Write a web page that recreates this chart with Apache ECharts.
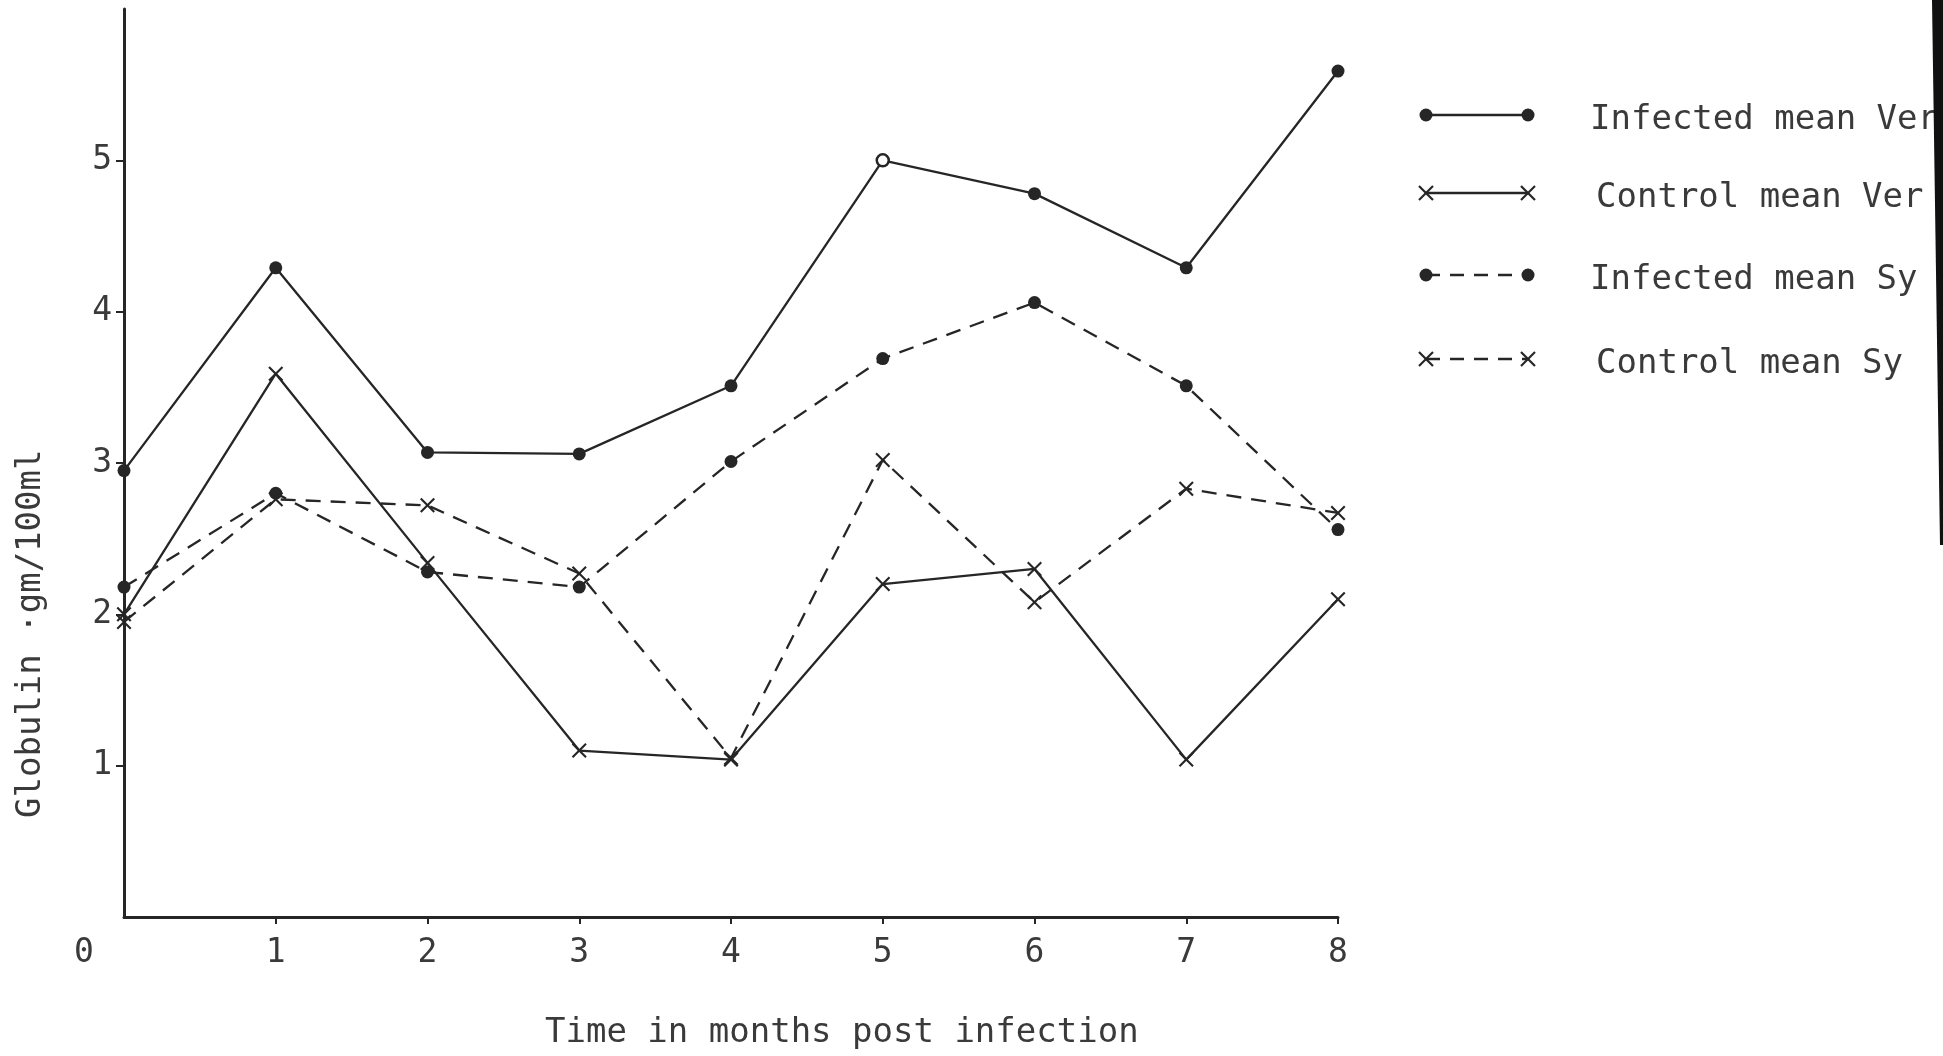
<!DOCTYPE html>
<html>
<head>
<meta charset="utf-8">
<script src="https://cdn.jsdelivr.net/npm/echarts@6/dist/echarts.min.js"></script>
<style>
html,body{margin:0;padding:0;background:#fff;}
#chart{width:1943px;height:1056px;}
</style>
</head>
<body>
<div id="chart"></div>
<script>
// ---- data ----
const months = [0, 1, 2, 3, 4, 5, 6, 7, 8];
const infectedVer = [2.95, 4.29, 3.07, 3.06, 3.51, 5.00, 4.78, 4.29, 5.59];
const controlVer  = [2.00, 3.59, 2.34, 1.10, 1.04, 2.20, 2.30, 1.04, 2.10];
const infectedSy  = [2.18, 2.80, 2.28, 2.18, 3.01, 3.69, 4.06, 3.51, 2.56];
const controlSy   = [1.95, 2.76, 2.72, 2.27, 1.05, 3.02, 2.08, 2.83, 2.67];
const seriesNames = ['Infected mean Ver', 'Control mean Ver', 'Infected mean Sy', 'Control mean Sy'];
const openPointIndex = 5; // hollow dot on Infected mean Ver
const xTicks = [0, 1, 2, 3, 4, 5, 6, 7, 8];
const yTicks = [1, 2, 3, 4, 5];
const xTitle = 'Time in months post infection';
const yTitle = 'Globulin ·gm/100ml';

// ---- style ----
const INK = '#262626';
const TXT = '#3a3a3a';
const FONT = '"DejaVu Sans Mono", monospace';
const CROSS = 'path://M1,0 L5,4 L9,0 L10,1 L6,5 L10,9 L9,10 L5,6 L1,10 L0,9 L4,5 L0,1 Z';
const DASH = [15, 10];

function pts(arr) { return months.map((m, i) => [m, arr[i]]); }

const chart = echarts.init(document.getElementById('chart'), null, {renderer: 'canvas'});

const infVerData = pts(infectedVer).map((p, i) => i === openPointIndex
  ? {value: p, symbol: 'circle', symbolSize: 12, itemStyle: {color: '#fff', borderColor: INK, borderWidth: 2.5}}
  : p);

function lineSeries(name, data, dashed, sym) {
  return {
    name: name, type: 'line', data: data,
    symbol: sym === 'dot' ? 'circle' : CROSS,
    symbolSize: sym === 'dot' ? 13 : 15,
    showAllSymbol: true,
    animation: false,
    lineStyle: {color: INK, width: 2.3, type: dashed ? DASH : 'solid'},
    itemStyle: {color: INK, borderWidth: 0}
  };
}

// legend drawn as graphics
const legY = [115, 193, 275, 359];
const legX1 = 1426, legX2 = 1528;
const legendGraphics = [];
const legSpec = [
  {dashed: false, sym: 'dot'}, {dashed: false, sym: 'x'},
  {dashed: true, sym: 'dot'}, {dashed: true, sym: 'x'}
];
legSpec.forEach((s, i) => {
  const y = legY[i];
  legendGraphics.push({
    type: 'line', shape: {x1: legX1, y1: y, x2: legX2, y2: y},
    style: {stroke: INK, lineWidth: 2.3, lineDash: s.dashed ? [14, 10] : null}
  });
  [legX1, legX2].forEach(x => {
    if (s.sym === 'dot') {
      legendGraphics.push({type: 'circle', shape: {cx: x, cy: y, r: 6.5}, style: {fill: INK}});
    } else {
      legendGraphics.push({type: 'line', shape: {x1: x - 7, y1: y - 7, x2: x + 7, y2: y + 7}, style: {stroke: INK, lineWidth: 2.2}});
      legendGraphics.push({type: 'line', shape: {x1: x - 7, y1: y + 7, x2: x + 7, y2: y - 7}, style: {stroke: INK, lineWidth: 2.2}});
    }
  });
  legendGraphics.push({
    type: 'text', left: i % 2 === 0 ? 1590 : 1596, top: y - 12,
    style: {text: seriesNames[i], font: '34px ' + FONT, fill: TXT}
  });
});

// right edge dark scan band
legendGraphics.push({
  type: 'polygon', shape: {points: [[1932, 0], [1943, 0], [1943, 545], [1940, 545]]},
  style: {fill: '#111'}, z: 100
});
// axis titles
legendGraphics.push({
  type: 'text', left: 545, top: 1016,
  style: {text: xTitle, font: '34px ' + FONT, fill: TXT}
});
legendGraphics.push({
  type: 'text', x: 14, y: 818, rotation: Math.PI / 2,
  originX: 0, originY: 0,
  style: {text: yTitle, font: '34px ' + FONT, fill: TXT}
});

const option = {
  backgroundColor: '#ffffff',
  animation: false,
  grid: {left: 124, right: 605, top: 9, bottom: 139, containLabel: false},
  xAxis: {
    type: 'value', min: 0, max: 8, interval: 1,
    axisLine: {show: true, lineStyle: {color: INK, width: 3}},
    axisTick: {show: true, inside: false, length: 7, lineStyle: {color: INK, width: 2},
      customValues: xTicks.slice(1)},
    axisLabel: {
      color: TXT, fontFamily: FONT, fontSize: 33, margin: 20,
      customValues: xTicks,
      formatter: v => v === 0 ? '{z|0}' : String(v),
      rich: {z: {fontFamily: FONT, fontSize: 33, color: TXT, padding: [0, 80, 0, 0]}}
    },
    splitLine: {show: false}
  },
  yAxis: {
    type: 'value', min: 0, max: 6, interval: 1,
    axisLine: {show: true, onZero: false, lineStyle: {color: INK, width: 3}},
    axisTick: {show: true, length: 8, lineStyle: {color: INK, width: 2}, customValues: yTicks},
    axisLabel: {color: TXT, fontFamily: FONT, fontSize: 33, margin: 12, customValues: yTicks},
    splitLine: {show: false}
  },
  series: [
    lineSeries(seriesNames[0], infVerData, false, 'dot'),
    lineSeries(seriesNames[1], pts(controlVer), false, 'x'),
    lineSeries(seriesNames[2], pts(infectedSy), true, 'dot'),
    lineSeries(seriesNames[3], pts(controlSy), true, 'x')
  ],
  graphic: legendGraphics
};
chart.setOption(option);
</script>
</body>
</html>
